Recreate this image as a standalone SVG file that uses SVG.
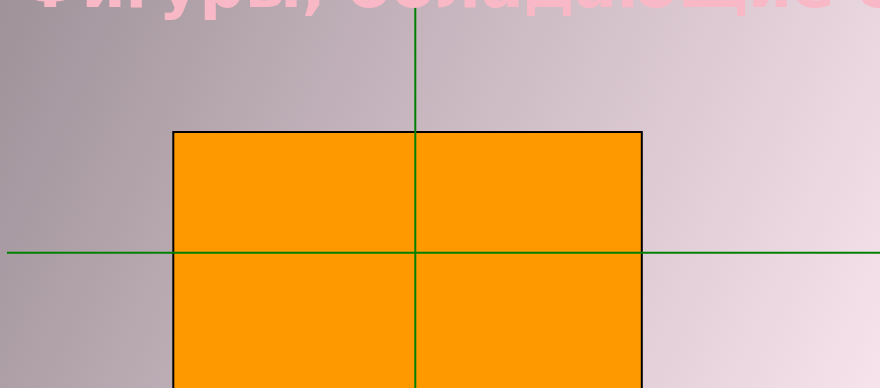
<svg xmlns="http://www.w3.org/2000/svg" width="880" height="388" viewBox="0 0 880 388">
  <defs>
    <linearGradient id="bg" x1="0" y1="0" x2="880" y2="388" gradientUnits="userSpaceOnUse">
      <stop offset="0" stop-color="#9F9299"/>
      <stop offset="0.5" stop-color="#CDBBC4"/>
      <stop offset="1" stop-color="#F6E3EC"/>
    </linearGradient>
    <style>
      .axis { stroke: #008000; stroke-width: 2; fill: none; }
      .shape { fill: #FF9900; stroke: #000000; stroke-width: 2; }
      .title { font-family: "DejaVu Sans", sans-serif; font-weight: bold; font-size: 63px; fill: #F8B8C6; }
    </style>
  </defs>
  <rect x="0" y="0" width="880" height="388" fill="url(#bg)"/>
  <g id="rectangle">
    <rect class="shape" x="173.3" y="132" width="468.5" height="270"/>
  </g>
  <g id="connectors">
    <line class="axis" x1="415.3" y1="0" x2="415.3" y2="388"/>
    <line class="axis" x1="7" y1="252.7" x2="880" y2="252.7"/>
  </g>
  <g id="title">
    <text class="title" x="19" y="7">Фигуры, обладающие симметрией</text>
  </g>
</svg>
